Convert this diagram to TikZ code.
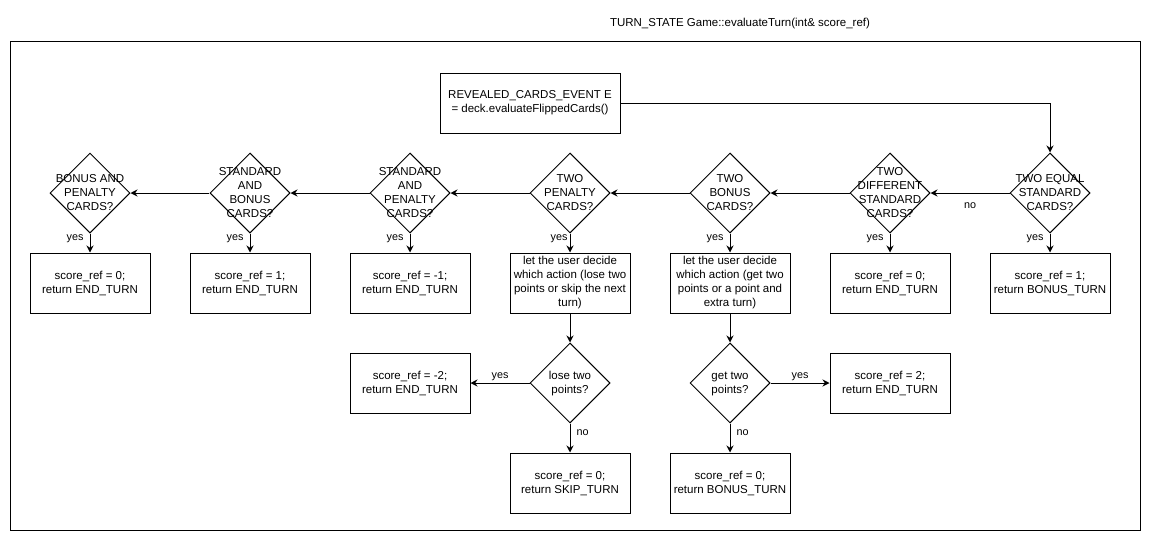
\documentclass[tikz,border=0pt]{standalone}
\usepackage{fontspec}
\setmainfont{Liberation Sans}
\usetikzlibrary{shapes.geometric, arrows.meta, positioning}
\newcommand{\decisiontext}[1]{\makebox[0pt]{\smash{\raisebox{-.35em}{\begin{tabular}{@{}c@{}}#1\end{tabular}}}}}
\begin{document}
\begin{tikzpicture}[x=1pt, y=-1pt, line width=1pt, >={Stealth[length=7pt, width=7pt]}, node distance=160pt,
        every node/.style={align=center, font=\fontsize{11.5}{14}\selectfont},
        process/.style={rectangle, draw, minimum width=120pt, minimum height=60pt, inner sep=0pt},
        decision/.style={diamond, draw, minimum width=80pt, minimum height=80pt, inner sep=0pt},
        lbl/.style={inner sep=2pt, font=\fontsize{10.8}{14}\selectfont}]
        \useasboundingbox (0,0) rectangle (1151,541);
        \draw (10,41) rectangle (1140,530);
        \node (title) at (740,24) {TURN\_STATE Game::evaluateTurn(int\& score\_ref)};

        \node (rev) [process, minimum width=180pt] at (530,103) {REVEALED\_CARDS\_EVENT E\\= deck.evaluateFlippedCards()};
        \node (tes) [decision] at (1050,193) {\decisiontext{TWO EQUAL\\STANDARD\\CARDS?}};
        \node (tds) [decision, left of=tes] {\decisiontext{TWO\\DIFFERENT\\STANDARD\\CARDS?}};
        \node (tb) [decision, left of=tds] {\decisiontext{TWO\\BONUS\\CARDS?}};
        \node (tp) [decision, left of=tb] {\decisiontext{TWO\\PENALTY\\CARDS?}};
        \node (sp) [decision, left of=tp] {\decisiontext{STANDARD\\AND\\PENALTY\\CARDS?}};
        \node (sb) [decision, left of=sp] {\decisiontext{STANDARD\\AND\\BONUS\\CARDS?}};
        \node (bp) [decision, left of=sb] {\decisiontext{BONUS AND\\PENALTY\\CARDS?}};

        \node (bpres) [process, node distance=90pt, below of=bp] {score\_ref = 0;\\return END\_TURN};
        \node (sbres) [process, node distance=90pt, below of=sb] {score\_ref = 1;\\return END\_TURN};
        \node (spres) [process, node distance=90pt, below of=sp] {score\_ref = -1;\\return END\_TURN};
        \node (tpask) [process, node distance=90pt, below of=tp] {let the user decide\\which action (lose two\\points or skip the next\\turn)};
        \node (tbask) [process, node distance=90pt, below of=tb] {let the user decide\\which action (get two\\points or a point and\\extra turn)};
        \node (tdsres) [process, node distance=90pt, below of=tds] {score\_ref = 0;\\return END\_TURN};
        \node (tesres) [process, node distance=90pt, below of=tes] {score\_ref = 1;\\return BONUS\_TURN};

        \node (lose) [decision, node distance=100pt, below of=tpask] {\decisiontext{lose two\\points?}};
        \node (get) [decision, node distance=100pt, below of=tbask] {\decisiontext{get two\\points?}};
        \node (loseyes) [process, left of=lose] {score\_ref = -2;\\return END\_TURN};
        \node (getyes) [process, right of=get] {score\_ref = 2;\\return END\_TURN};
        \node (loseno) [process, node distance=100pt, below of=lose] {score\_ref = 0;\\return SKIP\_TURN};
        \node (getno) [process, node distance=100pt, below of=get] {score\_ref = 0;\\return BONUS\_TURN};

        \draw[->] (rev) -| (tes);
        \draw[->] (tes) -- node[lbl, below=7pt] {no} (tds);
        \draw[->] (tds) -- (tb);
        \draw[->] (tb) -- (tp);
        \draw[->] (tp) -- (sp);
        \draw[->] (sp) -- (sb);
        \draw[->] (sb) -- (bp);

        \draw[->] (bp) -- node[lbl, left=4pt, pos=.3] {yes} (bpres);
        \draw[->] (sb) -- node[lbl, left=4pt, pos=.3] {yes} (sbres);
        \draw[->] (sp) -- node[lbl, left=4pt, pos=.3] {yes} (spres);
        \draw[->] (tp) -- node[lbl, left, pos=.3] {yes} (tpask);
        \draw[->] (tb) -- node[lbl, left=4pt, pos=.3] {yes} (tbask);
        \draw[->] (tds) -- node[lbl, left=4pt, pos=.3] {yes} (tdsres);
        \draw[->] (tes) -- node[lbl, left=4pt, pos=.3] {yes} (tesres);

        \draw[->] (tpask) -- (lose);
        \draw[->] (tbask) -- (get);
        \draw[->] (lose) -- node[lbl, above] {yes} (loseyes);
        \draw[->] (get) -- node[lbl, above] {yes} (getyes);
        \draw[->] (lose) -- node[lbl, right=4pt, pos=.33] {no} (loseno);
        \draw[->] (get) -- node[lbl, right=4pt, pos=.33] {no} (getno);
    \end{tikzpicture}
\end{document}
